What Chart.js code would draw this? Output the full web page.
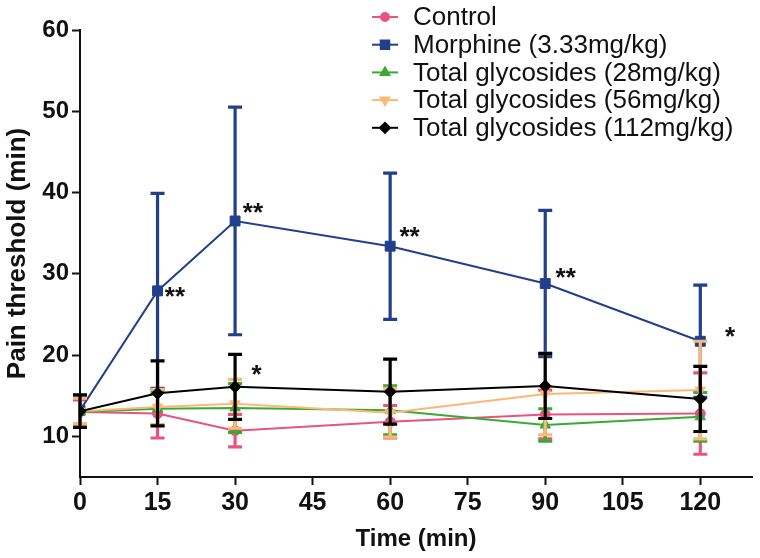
<!DOCTYPE html>
<html>
<head>
<meta charset="utf-8">
<script src="https://cdn.jsdelivr.net/npm/chart.js@4.4.1/dist/chart.umd.min.js"></script>
<style>
  html, body { margin: 0; padding: 0; background: #fff; }
  #wrap { width: 760px; height: 558px; }
</style>
</head>
<body>
<div id="wrap"><canvas id="c" width="760" height="558"></canvas></div>
<script>
/* pain threshold vs time, mean ± SD */

const times = [0, 15, 30, 60, 90, 120];
const xTicks = [0, 15, 30, 45, 60, 75, 90, 105, 120];
const yTicks = [10, 20, 30, 40, 50, 60];

const controlMean = [13.0, 12.8, 10.7, 11.8, 12.7, 12.8];
const controlSd   = [1.5, 3.0, 2.0, 2.0, 3.0, 5.0];
const morphineMean = [13.2, 27.9, 36.5, 33.4, 28.8, 21.7];
const morphineSd   = [1.8, 12.0, 14.0, 9.0, 9.0, 6.9];
const tg28Mean = [13.0, 13.4, 13.5, 13.2, 11.4, 12.4];
const tg28Sd   = [1.8, 2.0, 3.0, 3.0, 2.0, 3.0];
const tg56Mean = [13.1, 13.6, 14.0, 12.9, 15.2, 15.7];
const tg56Sd   = [1.6, 2.2, 3.0, 3.0, 5.0, 6.0];
const tg112Mean = [13.1, 15.3, 16.1, 15.5, 16.2, 14.6];
const tg112Sd   = [2.0, 4.0, 4.0, 4.0, 4.0, 4.0];

// significance marks (data coords of the mark's left edge / centre)
const starX = [16.4, 31.5, 33.2, 61.8, 92.0, 124.8];
const starY = [27.7, 38.0, 18.1, 35.0, 30.0, 22.8];
const starText = ['**', '**', '*', '**', '**', '*'];

const FONT = "'Liberation Sans', Arial, Helvetica, sans-serif";

function series(label, mean, sd, color, style, radius, order, rotation) {
  return {
    label,
    data: times.map((t, i) => ({ x: t, y: mean[i] })),
    errors: sd,
    borderColor: color,
    backgroundColor: color,
    borderWidth: 2,
    pointStyle: style,
    pointRadius: radius,
    pointRotation: rotation || 0,
    pointBorderWidth: 1,
    pointHoverRadius: radius,
    order
  };
}

const errorBars = {
  id: 'errorBars',
  beforeDatasetDraw(chart, args) {
    const ds = chart.data.datasets[args.index];
    if (!ds.errors) return;
    const { ctx, scales: { x, y } } = chart;
    ctx.save();
    ctx.strokeStyle = ds.borderColor;
    ctx.lineWidth = 3.2;
    ds.data.forEach((p, i) => {
      const sd = ds.errors[i];
      const px = x.getPixelForValue(p.x);
      const top = y.getPixelForValue(p.y + sd);
      const bot = y.getPixelForValue(p.y - sd);
      ctx.beginPath();
      ctx.moveTo(px, top); ctx.lineTo(px, bot);
      ctx.moveTo(px - 7, top); ctx.lineTo(px + 7, top);
      ctx.moveTo(px - 7, bot); ctx.lineTo(px + 7, bot);
      ctx.stroke();
    });
    ctx.restore();
  }
};

const sideLegend = {
  id: 'sideLegend',
  afterDraw(chart) {
    const ctx = chart.ctx;
    ctx.save();
    chart.data.datasets.forEach((ds, i) => {
      const cy = 17 + i * 27.7;
      ctx.strokeStyle = ds.borderColor;
      ctx.lineWidth = 2;
      ctx.beginPath();
      ctx.moveTo(372, cy); ctx.lineTo(398, cy);
      ctx.stroke();
      ctx.fillStyle = ds.backgroundColor;
      Chart.helpers.drawPoint(ctx, {
        pointStyle: ds.pointStyle,
        radius: ds.pointRadius - 1,
        rotation: ds.pointRotation,
        borderWidth: 1
      }, 385, cy);
      ctx.fillStyle = '#111';
      ctx.font = '26px ' + FONT;
      ctx.textAlign = 'left';
      ctx.textBaseline = 'middle';
      ctx.fillText(ds.label, 413, cy + 1);
    });
    ctx.restore();
  }
};

const stars = {
  id: 'stars',
  afterDraw(chart) {
    const { ctx, scales: { x, y } } = chart;
    ctx.save();
    ctx.fillStyle = '#111';
    ctx.font = 'bold 26px ' + FONT;
    ctx.textAlign = 'left';
    ctx.textBaseline = 'middle';
    starText.forEach((s, i) => {
      ctx.fillText(s, x.getPixelForValue(starX[i]), y.getPixelForValue(starY[i]) + 5);
    });
    ctx.restore();
  }
};

new Chart(document.getElementById('c'), {
  type: 'line',
  data: {
    datasets: [
      series('Control', controlMean, controlSd, '#E9547F', 'circle', 5, 5),
      series('Morphine (3.33mg/kg)', morphineMean, morphineSd, '#223F8C', 'rect', 7, 4),
      series('Total glycosides (28mg/kg)', tg28Mean, tg28Sd, '#3AA935', 'triangle', 6, 3),
      series('Total glycosides (56mg/kg)', tg56Mean, tg56Sd, '#FBB878', 'triangle', 6, 2, 180),
      series('Total glycosides (112mg/kg)', tg112Mean, tg112Sd, '#000000', 'rectRot', 6, 1)
    ]
  },
  options: {
    responsive: false,
    animation: false,
    layout: { padding: { top: 30, right: 7, left: 0, bottom: 0 } },
    plugins: {
      legend: { display: false },
      tooltip: { enabled: false }
    },
    scales: {
      x: {
        type: 'linear',
        min: 0,
        max: 130,
        afterBuildTicks: s => { s.ticks = xTicks.map(v => ({ value: v })); },
        afterFit: s => { s.height = 81; },
        grid: { display: true, drawOnChartArea: false, drawTicks: true, tickLength: 8, tickWidth: 2, tickColor: '#111' },
        border: { display: true, color: '#111', width: 2 },
        ticks: { color: '#111', padding: 3, font: { family: FONT, size: 25, weight: 'bold' } },
        title: {
          display: true,
          text: 'Time (min)',
          color: '#111',
          padding: { top: 0, bottom: 4 },
          font: { family: FONT, size: 24, weight: 'bold' }
        }
      },
      y: {
        min: 5,
        max: 60,
        afterBuildTicks: s => { s.ticks = yTicks.map(v => ({ value: v })); },
        afterFit: s => { s.width = 80; },
        grid: { display: true, drawOnChartArea: false, drawTicks: true, tickLength: 8, tickWidth: 2, tickColor: '#111' },
        border: { display: true, color: '#111', width: 2 },
        ticks: { color: '#111', padding: 3, font: { family: FONT, size: 24, weight: 'bold' } },
        title: {
          display: true,
          text: 'Pain threshold (min)',
          color: '#111',
          padding: { top: 2, bottom: 0 },
          font: { family: FONT, size: 26, weight: 'bold' }
        }
      }
    }
  },
  plugins: [errorBars, sideLegend, stars]
});
</script>
</body>
</html>
